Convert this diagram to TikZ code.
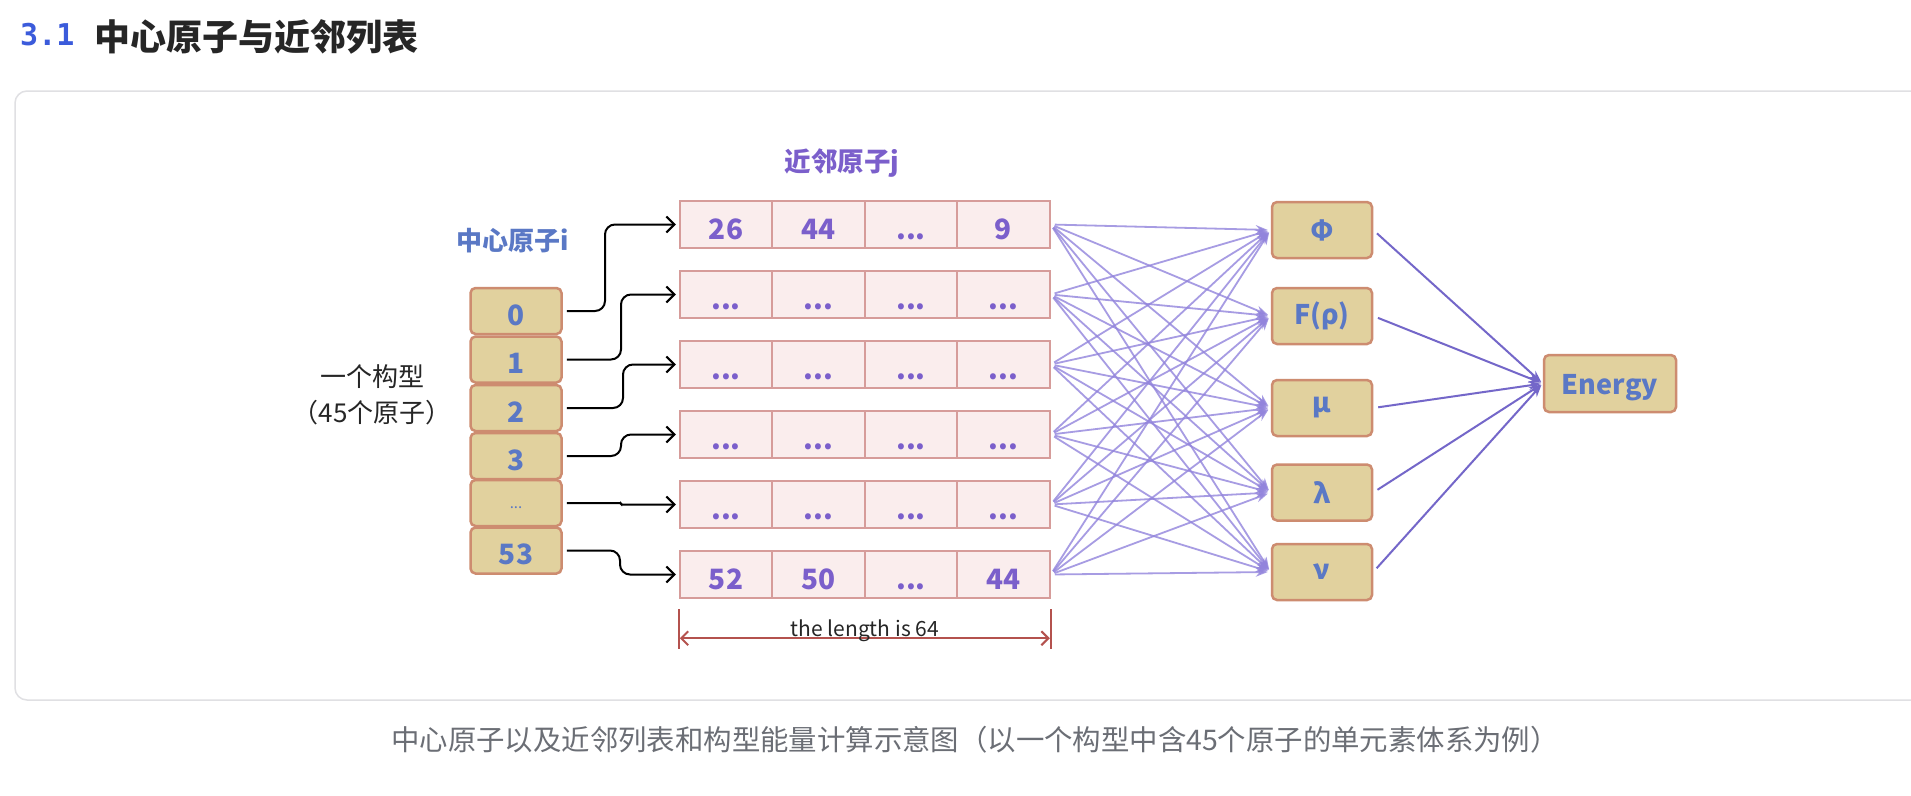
\documentclass[tikz,border=0pt]{standalone}
\usepackage{fontspec}
\setmainfont{Noto Sans CJK SC}
\newfontfamily\codefont{DejaVu Sans Mono}
\usetikzlibrary{arrows.meta}
\definecolor{atomblue}{HTML}{5A78C5}
\definecolor{nbpurple}{HTML}{7B5FCB}
\definecolor{meshline}{HTML}{9284DC}
\definecolor{sumline}{HTML}{7467C9}
\definecolor{boxfill}{HTML}{E1D19E}
\definecolor{boxdraw}{HTML}{CD8C70}
\definecolor{cellfill}{HTML}{FAEDED}
\definecolor{celldraw}{HTML}{D69C9A}
\definecolor{dimred}{HTML}{B4524E}
\definecolor{titleblue}{HTML}{3B5BDB}
\definecolor{cardgray}{HTML}{E0E0E3}
\definecolor{captiongray}{HTML}{6B6E75}
\newcommand{\nb}{...}
\tikzset{
	atom/.style={draw=boxdraw, fill=boxfill, line width=2.5pt, rounded corners=5pt, minimum width=91pt, minimum height=46pt, inner sep=0pt, text=atomblue, font=\fontsize{28}{30}\selectfont\bfseries, text height=28pt, text depth=0pt},
	term/.style={atom, minimum width=100pt, minimum height=56pt, text height=, text depth=, font=\fontsize{27}{30}\selectfont\bfseries},
	cell/.style={draw=celldraw, fill=cellfill, line width=2pt, minimum width=92.5pt, minimum height=47.5pt, inner sep=0pt, text=nbpurple, font=\fontsize{28}{30}\selectfont\bfseries, text height=30pt, text depth=0pt},
	link/.style={line width=2pt, shorten <=4pt, shorten >=3pt, -{Straight Barb[length=8pt,width=16pt]}},
	mesh/.style={meshline, line width=1.8pt, opacity=0.8, shorten <=4pt, shorten >=3pt, -{Stealth[length=12pt,width=9pt]}},
	sum/.style={sumline, line width=2pt, shorten <=5pt, shorten >=2pt, -{Stealth[length=12pt,width=9pt]}},
	dimline/.style={dimred, line width=2pt}
}
\begin{document}
\begin{tikzpicture}[x=1pt, y=-1pt]
	\path[fill=white, use as bounding box] (0,0) rectangle (1911,795);
	% heading and card
	\node[anchor=base west, inner sep=0pt, text=titleblue, font=\fontsize{30}{30}\codefont\bfseries] (num) at (20,45) {3.1};
	\node[anchor=west, inner sep=0pt, text=black!85, font=\fontsize{36}{40}\selectfont\bfseries] (title) at (94,37) {中心原子与近邻列表};
	\draw[cardgray, line width=1.5pt, rounded corners=12pt] (1930,91) -- (15,91) -- (15,700) -- (1930,700);
	\node[text=captiongray, font=\fontsize{28.4}{32}\selectfont] (caption) at (975,740) {中心原子以及近邻列表和构型能量计算示意图（以一个构型中含45个原子的单元素体系为例）};
	% labels
	\node[text=black!85, font=\fontsize{26}{30}\selectfont] (conf) at (372,377) {一个构型};
	\node[text=black!85, font=\fontsize{26}{30}\selectfont] (conf2) at (372,413) {（45个原子）};
	\node[text=atomblue, font=\fontsize{26}{30}\selectfont\bfseries] (ilabel) at (513,241) {中心原子i};
	\node[text=nbpurple, font=\fontsize{26.5}{30}\selectfont\bfseries] (jlabel) at (842,163) {近邻原子j};
	% central atoms
	\foreach \i/\y/\t in {1/311/0, 2/359.5/1, 3/408/2, 4/456/3, 6/550.5/53}
		\node[atom] (b\i) at (516,\y) {\t};
	\node[atom, font=\fontsize{15}{15}\selectfont, text height=10pt] (b5) at (516,503) {...};
	% neighbour lists
	\foreach \i/\y/\p/\q/\r/\s in {1/224.5/26/44/\nb/9, 2/294.5/\nb/\nb/\nb/\nb, 3/364.5/\nb/\nb/\nb/\nb, 4/434.5/\nb/\nb/\nb/\nb, 5/504.5/\nb/\nb/\nb/\nb, 6/574.5/52/50/\nb/44}{
		\node[cell] (c\i-a) at (726,\y) {\p};
		\node[cell] (c\i-b) at (818.5,\y) {\q};
		\node[cell] (c\i-c) at (911,\y) {\r};
		\node[cell] (c\i-d) at (1003.5,\y) {\s};
	}
	\foreach \i/\k/\rc in {1/605/10, 2/621/10, 3/623/10, 4/621/10, 5/621/1, 6/620/10}{
		\coordinate (k\i) at (\k,0);
		\draw[link, rounded corners=\rc pt] (b\i.east) -- (k\i |- b\i.east) -- (k\i |- c\i-a.west) -- (c\i-a.west);
	}
	% terms and energy
	\node[term] (phi) at (1322,230) {Φ};
	\node[term] (frho) at (1322,316) {F(ρ)};
	\node[term] (mu) at (1322,408) {μ};
	\node[term] (lam) at (1322,492.5) {λ};
	\node[term] (nu) at (1322,572) {ν};
	\node[term, minimum width=132pt, minimum height=57pt, text height=22pt, text depth=0pt] (energy) at (1610,383.5) {Energy};
	\foreach \i in {1,...,6}
		\foreach \g in {phi,frho,mu,lam,nu}
			\draw[mesh] (c\i-d.east) -- (\g.west);
	\foreach \g in {phi,frho,mu,lam,nu}
		\draw[sum] (\g.east) -- (energy.west);
	% length of the list
	\draw[dimline] ([yshift=-10pt]c6-a.south west) -- ([yshift=-50pt]c6-a.south west);
	\draw[dimline] ([yshift=-10pt]c6-d.south east) -- ([yshift=-50pt]c6-d.south east);
	\draw[dimline, {Straight Barb[length=7pt,width=14pt]}-{Straight Barb[length=7pt,width=14pt]}] ([yshift=-39pt,xshift=1pt]c6-a.south west) -- node[midway, anchor=base, yshift=2pt, inner sep=0pt, text=black!85, font=\fontsize{21}{24}\selectfont] {the length is 64} ([yshift=-39pt,xshift=-1pt]c6-d.south east);
\end{tikzpicture}
\end{document}
